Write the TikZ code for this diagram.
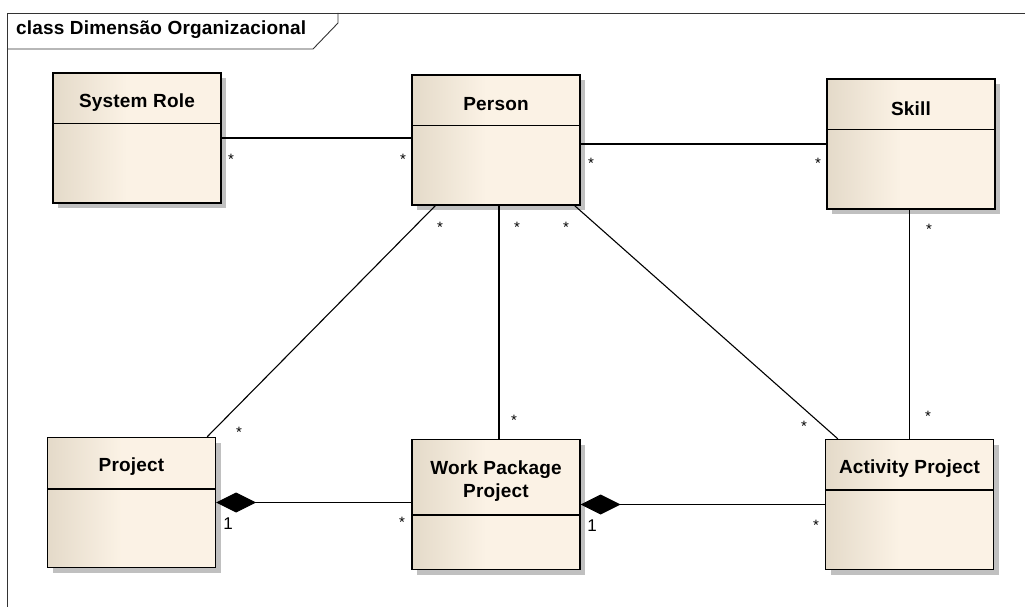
\documentclass[tikz,border=0pt]{standalone}
\usepackage{fontspec}
\setmainfont{Liberation Sans}
\newfontfamily\umlfont[LetterSpace=1]{Liberation Sans}
\usepackage{tikz}
\usetikzlibrary{positioning,shapes,arrows.meta,shadows,calc}
\definecolor{classdark}{RGB}{228,218,201}
\definecolor{classlight}{RGB}{251,242,229}
\definecolor{shadowgray}{RGB}{192,192,192}
\pgfdeclarehorizontalshading{classfill}{100bp}{color(0bp)=(classdark); color(25bp)=(classdark); color(47bp)=(classlight); color(100bp)=(classlight)}
\tikzstyle{classbox} = [rectangle, draw, line width=1.4pt, shading=classfill, %
   drop shadow={shadow xshift=5pt, shadow yshift=-5pt, fill=shadowgray, opacity=1}, %
   minimum width=168pt, minimum height=130pt]
\tikzstyle{classname} = [font=\umlfont\bfseries\fontsize{19}{23}\selectfont, %
   align=center, inner sep=0pt]
\tikzstyle{divider} = [draw, line width=1.4pt]
\tikzstyle{assoc} = [draw, line width=1.1pt]
\tikzstyle{composition} = [draw, line width=1.1pt, {Diamond[length=40pt,width=20pt]}-]
\tikzstyle{mult} = [font=\fontsize{15}{15}\selectfont, inner sep=0pt]
\tikzstyle{mult1} = [font=\fontsize{17}{17}\selectfont, inner sep=0pt]
\tikzstyle{frameline} = [draw, line width=0.9pt, black!80]

\begin{document}
\begin{tikzpicture}[x=1pt, y=-1pt]
   \useasboundingbox (0,0) rectangle (1025,607);

   % Diagram frame
   \path[frameline] (7,607) -- (7,13) -- (1025,13);
   \path[frameline] (7,49) -- (313,49) -- (338,23) -- (338,13);
   \node[classname, anchor=west] (title) at (16,30) {class Dimensão Organizacional};

   % Place classes
   \node[classbox] (sysrole) at (137,138) {};
   \node[classbox] (person) at (496,140) {};
   \node[classbox] (skill) at (911,144) {};
   \node[classbox] (project) at (131.5,502.5) {};
   \node[classbox] (wpproject) at (496,504.5) {};
   \node[classbox] (actproject) at (909.5,504.5) {};

   \path[divider] ([yshift=-51pt]sysrole.north west) -- ([yshift=-51pt]sysrole.north east);
   \path[divider] ([yshift=-51pt]person.north west) -- ([yshift=-51pt]person.north east);
   \path[divider] ([yshift=-51pt]skill.north west) -- ([yshift=-51pt]skill.north east);
   \path[divider] ([yshift=-52pt]project.north west) -- ([yshift=-52pt]project.north east);
   \path[divider] ([yshift=-76pt]wpproject.north west) -- ([yshift=-76pt]wpproject.north east);
   \path[divider] ([yshift=-51pt]actproject.north west) -- ([yshift=-51pt]actproject.north east);

   \node[classname] (sysrolename) at ([yshift=-30pt]sysrole.north) {System Role};
   \node[classname] (personname) at ([yshift=-30pt]person.north) {Person};
   \node[classname] (skillname) at ([yshift=-30pt]skill.north) {Skill};
   \node[classname] (projectname) at ([yshift=-30pt]project.north) {Project};
   \node[classname] (wpname) at ([yshift=-42.5pt]wpproject.north) {Work Package\\Project};
   \node[classname] (actname) at ([yshift=-30pt]actproject.north) {Activity Project};

   % Draw edges
   \path[assoc] (sysrole.east) -- (sysrole.east -| person.west);
   \path[assoc] (skill.west -| person.east) -- (skill.west);
   \path[assoc] ([xshift=24pt]person.south west) -- ([xshift=-9pt]project.north east);
   \path[assoc] ([xshift=3pt]person.south) -- ([xshift=3pt]person.south |- wpproject.north);
   \path[assoc] ([xshift=-6pt]person.south east) -- ([xshift=13pt]actproject.north west);
   \path[assoc] (actproject.north |- skill.south) -- (actproject.north);
   \path[composition] (project.east) -- (project.east -| wpproject.west);
   \path[composition] (wpproject.east) -- (wpproject.east -| actproject.west);

   % Multiplicities
   \node[mult] (m1) at (231,159) {*};
   \node[mult] (m2) at (403,159) {*};
   \node[mult] (m3) at (591,163) {*};
   \node[mult] (m4) at (818,163) {*};
   \node[mult] (m5) at (440,227) {*};
   \node[mult] (m6) at (517,227) {*};
   \node[mult] (m7) at (566,227) {*};
   \node[mult] (m8) at (929,229) {*};
   \node[mult] (m9) at (239,432) {*};
   \node[mult] (m10) at (514,420) {*};
   \node[mult] (m11) at (804,426) {*};
   \node[mult] (m12) at (928,416) {*};
   \node[mult] (m13) at (402,522) {*};
   \node[mult] (m14) at (816,525) {*};
   \node[mult1] (m15) at (228,524) {1};
   \node[mult1] (m16) at (592,526) {1};
\end{tikzpicture}
\end{document}
